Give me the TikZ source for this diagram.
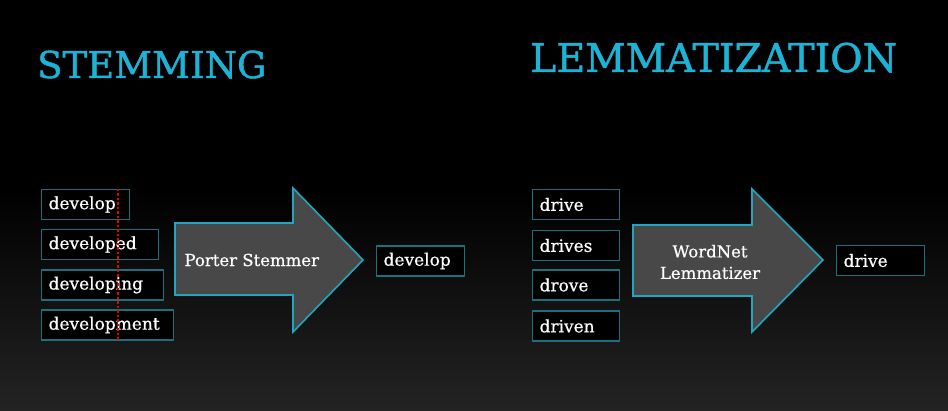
\documentclass[tikz,border=0pt]{standalone}
\usepackage{fontspec}
\setmainfont{DejaVu Serif}
\usetikzlibrary{positioning}
\definecolor{titleblue}{HTML}{1BB3D6}
\definecolor{boxline}{HTML}{1E6F7E}
\definecolor{arrowline}{HTML}{22A6BF}
\definecolor{arrowfill}{HTML}{484848}
\definecolor{cutred}{HTML}{E00000}
\definecolor{floor}{HTML}{232323}
\tikzset{
	wordbox/.style={draw=boxline, line width=1.2pt, fill=black, text=white, anchor=west, align=left, inner xsep=7pt, minimum height=30pt, font=\fontsize{17}{20}\selectfont\addfontfeature{FakeBold=0.6}},
	bigarrow/.style={draw=arrowline, line width=1.6pt, fill=arrowfill, line join=miter},
	heading/.style={text=titleblue, anchor=base west, inner sep=0pt, font=\fontsize{37}{40}\selectfont\addfontfeature{FakeBold=1.2}},
	arrowtext/.style={text=white, align=center, font=\fontsize{16.5}{21.5}\selectfont\addfontfeature{FakeBold=0.6}},
	cutline/.style={draw=cutred, line width=2.6pt, dash pattern=on 2.5pt off 2pt}
}
\begin{document}
\begin{tikzpicture}[x=1pt, y=-1pt]
	\useasboundingbox (0,0) rectangle (948,411);
	\fill[black] (0,0) rectangle (948,411);
	\shade[top color=black, bottom color=floor] (0,190) rectangle (948,411);
	
	% headings
	\node[heading] (stemtitle) at (37,78) {STEMMING};
	\node[heading, font=\fontsize{39.5}{42}\selectfont\addfontfeature{FakeBold=1.2}] (lemmatitle) at (530,72) {LEMMATIZATION};
	
	% stemming
	\draw[bigarrow] (175,223) -- (293,223) -- (293,188) -- (363,260) -- (293,332) -- (293,295) -- (175,295) -- cycle;
	\node[arrowtext, anchor=west] (porter) at (181,260) {Porter Stemmer};
	
	\node[wordbox, text width=74pt] (dev1) at (41,204.5) {develop};
	\node[wordbox, text width=103pt] (dev2) at (41,244.5) {developed};
	\node[wordbox, text width=108pt] (dev3) at (41,285) {developing};
	\node[wordbox, text width=118pt] (dev4) at (41,325) {development};
	\node[wordbox, text width=74pt] (devout) at (376,261) {develop};
	
	\coordinate (cuttop) at (118,189);
	\coordinate (cutbottom) at (118,340);
	\draw[cutline] (cuttop) -- (cutbottom);
	
	% lemmatization
	\draw[bigarrow] (633,225) -- (752,225) -- (752,189) -- (823,260) -- (752,332) -- (752,296) -- (633,296) -- cycle;
	\node[arrowtext] (wordnet) at (710,262) {WordNet\\Lemmatizer};
	
	\node[wordbox, text width=73pt] (drv1) at (532,204.5) {drive};
	\node[wordbox, text width=73pt] (drv2) at (532,245.5) {drives};
	\node[wordbox, text width=73pt] (drv3) at (532,285) {drove};
	\node[wordbox, text width=73pt] (drv4) at (532,326) {driven};
	\node[wordbox, text width=74pt] (drvout) at (836,260.5) {drive};
\end{tikzpicture}
\end{document}
